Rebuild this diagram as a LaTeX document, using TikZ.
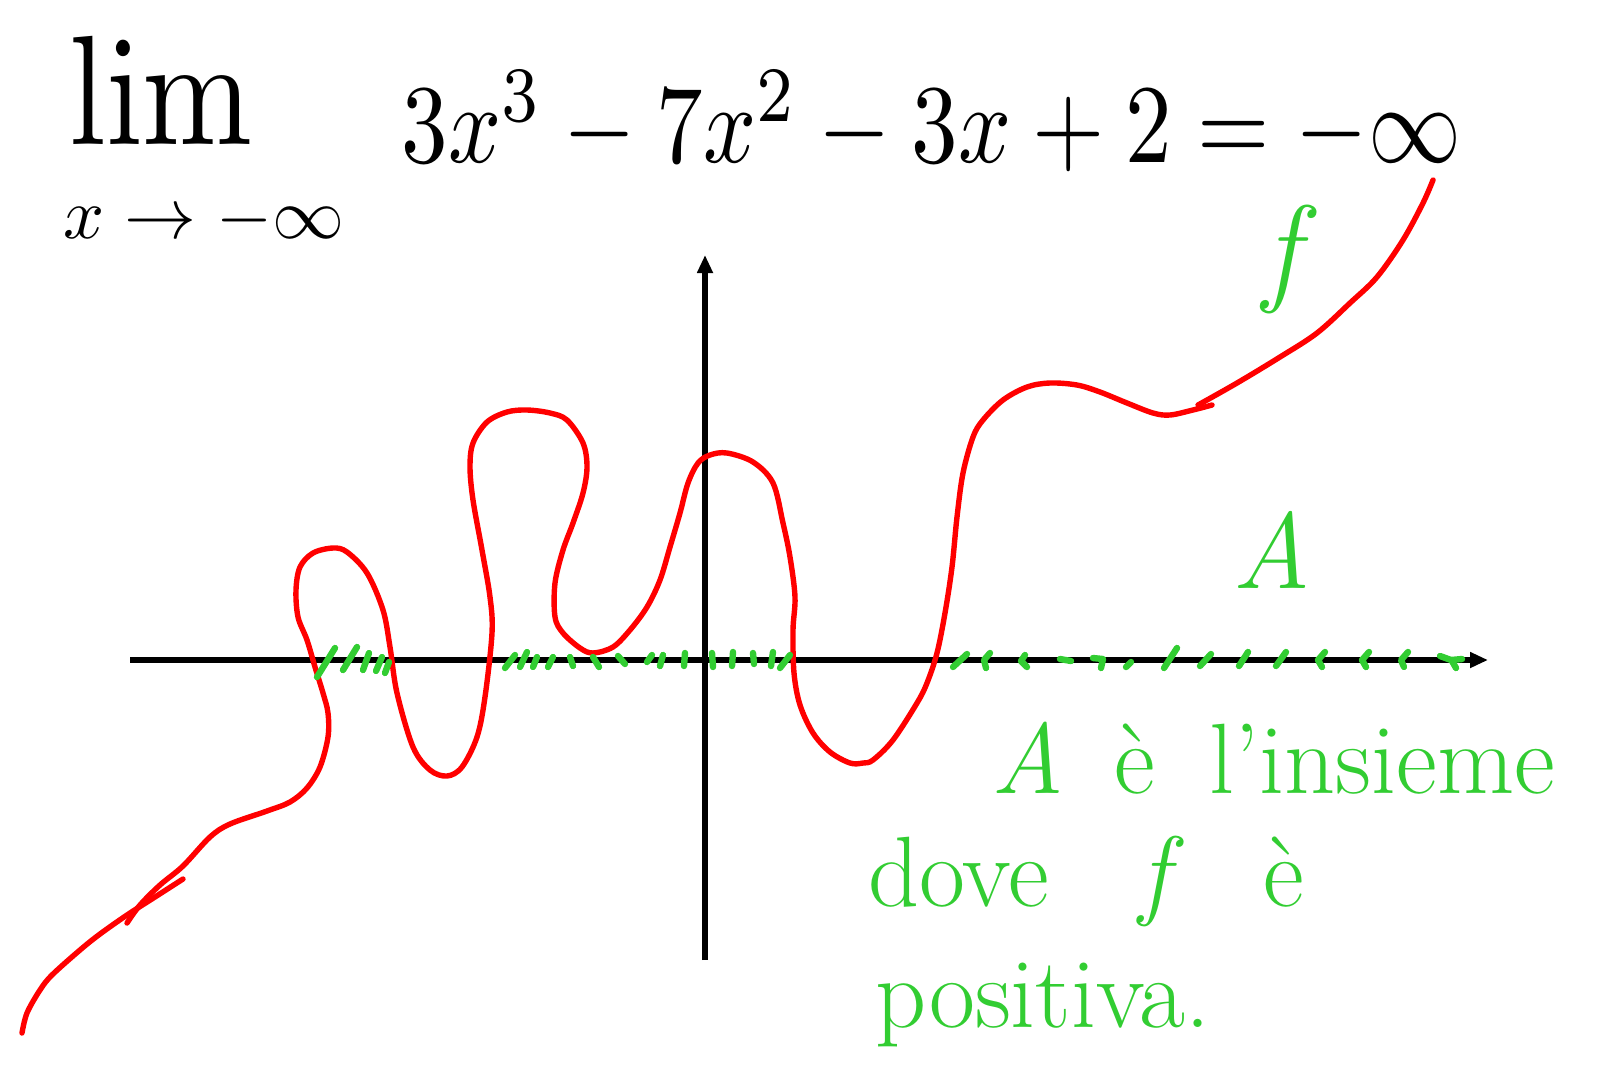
\documentclass[tikz,border=0pt]{standalone}
\usepackage{xcolor}
\usepackage{tikz}
\usetikzlibrary{arrows.meta}
\definecolor{inkred}{RGB}{255,0,0}
\definecolor{inkgreen}{RGB}{50,205,50}
\tikzset{
  px/.style={x=0.5pt, y=-0.5pt},
  s axis/.style={line width=2.7pt, black, -{Triangle[length=9pt, width=7.5pt]}},
  s curve/.style={line width=2.7pt, inkred, line cap=round, line join=round},
  s hatch/.style={line width=3.2pt, inkgreen, line cap=round, line join=round},
  s black/.style={inner sep=0pt, text=black},
  s green/.style={inner sep=0pt, text=inkgreen},
}

\begin{document}
\begin{tikzpicture}[px]
\fill[white] (0,0) rectangle (1610,1073);
\useasboundingbox (0,0) rectangle (1610,1073);
% ---- limit ----
\node[s black, xscale=6.6, yscale=7.8, anchor=base west] (lim) at (67,144) {$\lim$};
\node[s black, scale=3.6, anchor=base west] (limsub) at (62,238) {$x\to-\infty$};
\node[s black, xscale=4.65, yscale=5.6, anchor=base west] (expr) at (400,162) {$3x^3-7x^2-3x+2=-\infty$};
% ---- axes ----
\coordinate (xl) at (130,660); \coordinate (xr) at (1488,660);
\coordinate (yb) at (705,960); \coordinate (yt) at (705,255);
\draw[s axis] (xl) -- (xr);
\draw[s axis] (yb) -- (yt);
% ---- graph of f ----
\draw[s curve] plot[smooth, tension=0.55] coordinates {(22,1033) (27,1013) (40,990) (52,975) (80,950) (100,934) (127,915) (155,897) (183,879)};
\draw[s curve] plot[smooth, tension=0.55] coordinates {(127,923) (140,905) (160,885) (183,866) (210,837) (230,824) (267,811) (290,802) (307,788) (320,767) (328,737) (328,713) (323,693) (315,667) (307,640) (298,617) (296,590) (300,567) (313,553) (333,548) (347,552) (367,573) (383,610) (390,647) (397,693) (413,747) (430,770) (447,776) (462,767) (477,737) (485,697) (492,633) (490,597) (482,550) (473,500) (470,467) (473,443) (487,422) (507,412) (527,410) (550,413) (567,420) (583,443) (587,467) (583,493) (573,523) (563,550) (555,583) (555,617) (563,633) (580,648) (593,653) (613,647) (630,630) (647,607) (660,580) (670,547) (680,513) (688,483) (698,463) (710,455) (727,453) (753,462) (773,483) (783,523) (790,557) (795,597) (793,630) (794,673) (800,705) (813,733) (830,752) (850,763) (863,763) (873,760) (893,740) (917,703) (927,683) (937,653) (945,613) (952,567) (957,517) (963,473) (973,437) (983,420) (1003,400) (1027,387) (1050,383) (1077,385) (1100,392) (1127,403) (1153,413) (1170,415) (1193,410) (1212,405)};
\draw[s curve] plot[smooth, tension=0.55] coordinates {(1198,405) (1237,383) (1280,357) (1317,333) (1350,303) (1377,277) (1403,240) (1423,203) (1433,180)};
% ---- hatching where f > 0 ----
\foreach \a/\b/\c/\d in {317/677/335/648, 343/670/357/647, 363/670/369/653, 376/671/382/657, 385/673/389/662,
  505/668/515/655, 520/667/527/652, 533/667/537/657, 548/667/553/657, 570/657/573/666, 593/657/599/667,
  618/656/625/664, 647/662/652/655, 660/666/663/655, 684/666/685/653, 712/653/713/667, 733/652/732/666,
  753/653/754/664, 773/652/771/666, 790/655/780/668,
  953/667/967/654, 1060/659/1071/661, 1126/667/1131/662, 1164/668/1177/648, 1200/666/1211/654,
  1239/666/1248/652, 1276/666/1286/652, 1452/661/1456/668}
  \draw[s hatch] (\a,\b) -- (\c,\d);
\foreach \a/\b/\c/\d/\e/\f in {990/653/984/660/986/668, 1025/655/1021/661/1027/667, 1093/658/1103/659/1101/668,
  1325/652/1318/660/1322/667, 1369/652/1362/660/1366/667, 1408/652/1401/660/1404/667, 1440/656/1451/660/1462/659}
  \draw[s hatch] (\a,\b) -- (\c,\d) -- (\e,\f);
% ---- labels ----
\node[s green, font=\fontsize{60}{60}\selectfont\itshape] (lblf) at (1281,259) {f};
\node[s green, font=\fontsize{54}{54}\selectfont\itshape] (lblA) at (1272,550) {A};
\node[s green, font=\fontsize{50}{56}\selectfont, anchor=base west] (line1) at (991,793) {\textit{A}\hspace{0.5em}è\hspace{0.55em}l'insieme};
\node[s green, font=\fontsize{50}{56}\selectfont, anchor=base west] (line2) at (868,906) {dove\hspace{0.9em}\textit{f}\hspace{0.8em}è};
\node[s green, font=\fontsize{50}{56}\selectfont, anchor=base west] (line3) at (875,1027) {positiva.};
\end{tikzpicture}
\end{document}
